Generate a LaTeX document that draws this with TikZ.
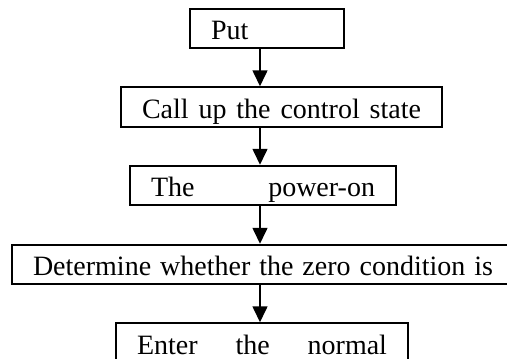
\documentclass[tikz,border=0pt]{standalone}
\usepackage{fontspec}
\setmainfont{Liberation Serif}
\usetikzlibrary{arrows.meta}

\newcommand{\spread}[2]{\makebox[#1][s]{#2}}

\begin{document}
\begin{tikzpicture}[x=0.75pt, y=-0.75pt,
	block/.style={draw, line width=1.5pt, rectangle, minimum height=29.5pt,
		inner xsep=15.75pt, inner ysep=0pt, text height=16.5pt, text depth=0pt,
		font=\fontsize{21}{24}\selectfont},
	flow/.style={-{Triangle[length=12pt, width=11pt]}, line width=1.8pt},
	]
	\clip (0,0) rectangle (507,358);

	\node[block] (put) at (267,28.5) {\makebox[84pt][l]{Put}};
	\node[block] (call) at (281.5,107) {\spread{209.25pt}{Call up the control state}};
	\node[block] (power) at (263,185.5) {\spread{168pt}{The power-on}};
	\node[block] (zero) at (263,264.5) {\spread{345pt}{Determine whether the zero condition is}};
	\node[block] (normal) at (262,343) {\spread{187.5pt}{Enter the normal}};

	\coordinate (axis) at (260,0);

	\draw[flow] (put.south -| axis) -- (call.north -| axis);
	\draw[flow] (call.south -| axis) -- (power.north -| axis);
	\draw[flow] (power.south -| axis) -- (zero.north -| axis);
	\draw[flow] (zero.south -| axis) -- (normal.north -| axis);

\end{tikzpicture}
\end{document}
